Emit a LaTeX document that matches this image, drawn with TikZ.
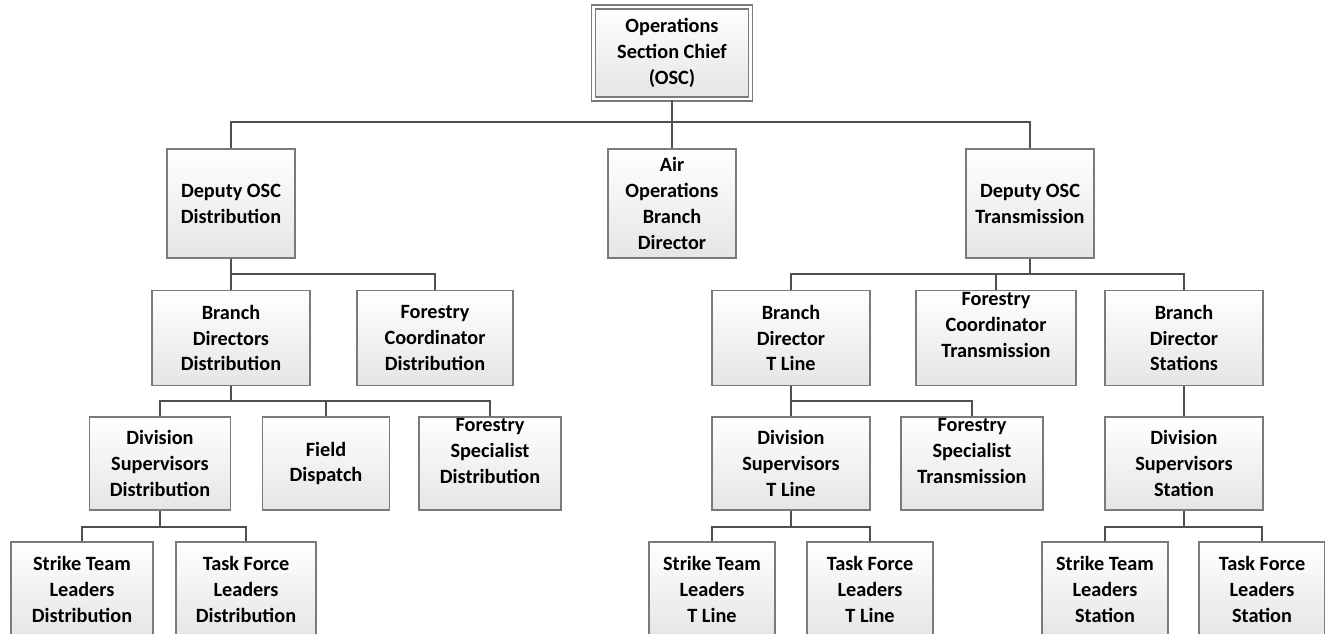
\documentclass[tikz,border=0pt]{standalone}
\usepackage{fontspec}
\setmainfont{Carlito}
\definecolor{boxline}{RGB}{122,122,122}
\definecolor{boxfill}{RGB}{229,229,229}
\definecolor{linkc}{RGB}{80,80,80}
\begin{document}
\begin{tikzpicture}[x=0.75pt,y=-0.75pt,
  box/.style={draw=boxline, line width=0.8pt, top color=white, bottom color=boxfill,
    align=center, inner sep=0pt, text=black,
    font=\bfseries\fontsize{15.2}{19.4}\selectfont},
  sz/.style 2 args={minimum width=#1*0.75pt, minimum height=#2*0.75pt},
  link/.style={draw=linkc, line width=1.2pt}]
\clip (0,0) rectangle (1325,634);
\fill[white] (0,0) rectangle (1325,634);

% chief
\node[box, sz={157}{92}, double=white, double distance=2.2pt] (osc) at (672,53) {Operations\\Section Chief\\(OSC)};

% deputies and air operations
\node[box, sz={128}{109}] (dd)  at (231,203.5)  {Deputy OSC\\Distribution};
\node[box, sz={128}{109}] (air) at (672,203.5)  {Air\\Operations\\Branch\\Director};
\node[box, sz={128}{109}] (dt)  at (1030,203.5) {Deputy OSC\\Transmission};

% branch level
\node[box, sz={158}{95}] (bdd) at (231,338)  {Branch\\Directors\\Distribution};
\node[box, sz={156}{95}] (fcd) at (435,338)  {Forestry\\Coordinator\\Distribution};
\node[box, sz={158}{95}] (bdt) at (791,338)  {Branch\\Director\\T Line};
\node[box, sz={160}{95}] (fct) at (996,338)  {Forestry\\Coordinator\\Transmission\\\mbox{}};
\node[box, sz={158}{95}] (bds) at (1184,338) {Branch\\Director\\Stations};

% division level
\node[box, sz={141}{93}] (dsd) at (160,463.5)  {Division\\Supervisors\\Distribution};
\node[box, sz={127}{93}] (fdp) at (326,463.5)  {Field\\Dispatch};
\node[box, sz={142}{93}] (fsd) at (490,463.5)  {Forestry\\Specialist\\Distribution\\\mbox{}};
\node[box, sz={158}{93}] (dst) at (791,463.5)  {Division\\Supervisors\\T Line};
\node[box, sz={142}{93}] (fst) at (972,463.5)  {Forestry\\Specialist\\Transmission\\\mbox{}};
\node[box, sz={158}{93}] (dss) at (1184,463.5) {Division\\Supervisors\\Station};

% leader level
\node[box, sz={142}{95}] (stld) at (82,589.5)   {Strike Team\\Leaders\\Distribution};
\node[box, sz={140}{95}] (tfld) at (246,589.5)  {Task Force\\Leaders\\Distribution};
\node[box, sz={126}{95}] (stlt) at (712,589.5)  {Strike Team\\Leaders\\T Line};
\node[box, sz={126}{95}] (tflt) at (870,589.5)  {Task Force\\Leaders\\T Line};
\node[box, sz={126}{95}] (stls) at (1105,589.5) {Strike Team\\Leaders\\Station};
\node[box, sz={126}{95}] (tfls) at (1262,589.5) {Task Force\\Leaders\\Station};

% bus heights
\coordinate (busA) at (0,122);
\coordinate (busB) at (0,274);
\coordinate (busD) at (0,401);
\coordinate (busE) at (0,527);

% chief to deputies
\draw[link] (osc.south) -- (air.north);
\draw[link] (dd.north) |- (dt.north |- busA) -- (dt.north);

% distribution side
\draw[link] (dd.south) -- (dd.south |- busB);
\draw[link] (bdd.north) |- (fcd.north |- busB) -- (fcd.north);
\draw[link] (bdd.south) -- (bdd.south |- busD);
\draw[link] (dsd.north) |- (fsd.north |- busD) -- (fsd.north);
\draw[link] (fdp.north) -- (fdp.north |- busD);
\draw[link] (dsd.south) -- (dsd.south |- busE);
\draw[link] (stld.north) |- (tfld.north |- busE) -- (tfld.north);

% transmission side
\draw[link] (dt.south) -- (dt.south |- busB);
\draw[link] (bdt.north) |- (bds.north |- busB) -- (bds.north);
\draw[link] (fct.north) -- (fct.north |- busB);
\draw[link] (bdt.south) -- (dst.north);
\draw[link] (bdt.south |- busD) -| (fst.north);
\draw[link] (bds.south) -- (dss.north);
\draw[link] (dst.south) -- (dst.south |- busE);
\draw[link] (stlt.north) |- (tflt.north |- busE) -- (tflt.north);
\draw[link] (dss.south) -- (dss.south |- busE);
\draw[link] (stls.north) |- (tfls.north |- busE) -- (tfls.north);
\end{tikzpicture}
\end{document}
